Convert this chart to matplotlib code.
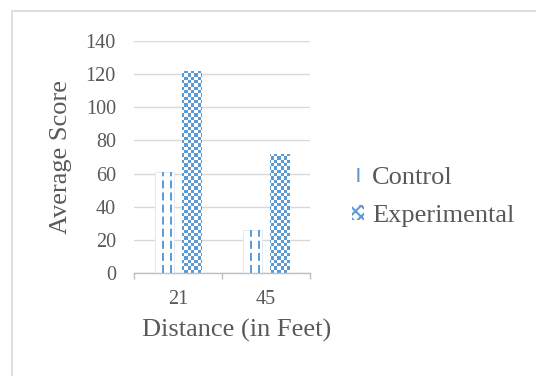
import numpy as np
import matplotlib
matplotlib.use("Agg")
import matplotlib.pyplot as plt
from matplotlib.patches import Patch, Rectangle

categories = ["21", "45"]
control = [61, 26]
experimental = [122, 72]
y_ticks = [0, 20, 40, 60, 80, 100, 120, 140]

blue = "#5b9bd5"
text_grey = "#595959"
grid_grey = "#d9d9d9"

plt.rcParams["font.family"] = ["Liberation Serif", "DejaVu Serif"]
plt.rcParams["lines.scale_dashes"] = False
plt.rcParams["hatch.linewidth"] = 1.5

fig = plt.figure(figsize=(5.36, 3.76), dpi=100)
ax = fig.add_axes([134 / 536, 1 - 273 / 376, 176 / 536, 232 / 376])

x = np.arange(len(categories))
w = 0.225
off = 0.153

ctrl_bars = ax.bar(x - off, control, w, color="white", edgecolor="#dde8f4", linewidth=0.6, zorder=2)
exp_bars = ax.bar(x + off, experimental, w, color="none", linewidth=0, zorder=2)

# dashed vertical pattern for the control bars
for b in ctrl_bars:
    x0, bw, h = b.get_x(), b.get_width(), b.get_height()
    for frac in (0.42, 0.83):
        ax.vlines(x0 + frac * bw, 0, h, colors=blue, linewidth=1.4,
                  linestyles=(0, (5.8, 2.9)), zorder=3)

# checkerboard pattern for the experimental bars
rows, cols = 70, 53
yy, xx = np.mgrid[0:rows, 0:cols]
mask = (yy + xx) % 2 == 0
img = np.ones((rows, cols, 3))
img[mask] = matplotlib.colors.to_rgb(blue)
for b in exp_bars:
    im = ax.imshow(img, extent=[0, 1, 0, 1], transform=ax.transAxes,
                   aspect="auto", interpolation="nearest", zorder=2)
    im.set_clip_path(b)

ax.set_xlim(-0.5, len(categories) - 0.5)
ax.set_ylim(0, 140)
ax.set_yticks(y_ticks)
ax.set_xticks(x)
ax.set_xticklabels(categories)
ax.set_xticks(np.arange(len(categories) + 1) - 0.5, minor=True)

ax.tick_params(axis="y", length=0, pad=13, labelsize=14.5, labelcolor=text_grey)
ax.tick_params(axis="x", which="major", length=0, pad=12, labelsize=14.5, labelcolor=text_grey)
ax.tick_params(axis="x", which="minor", length=4.3, width=1, color="#bfbfbf", direction="out")

ax.grid(axis="y", color=grid_grey, linewidth=1.0)
ax.set_axisbelow(True)
for s in ["top", "right", "left"]:
    ax.spines[s].set_visible(False)
ax.spines["bottom"].set_color("#bfbfbf")
ax.spines["bottom"].set_linewidth(1.0)

ax.set_ylabel("Average Score", fontsize=19, color=text_grey)
ax.yaxis.set_label_coords(-0.35, 0.5)
ax.set_xlabel("Distance (in Feet)", fontsize=19, color=text_grey)
ax.xaxis.set_label_coords(0.585, -0.2)

handles = [
    Patch(facecolor="white", edgecolor=blue, hatch="|", linewidth=0, label="Control"),
    Patch(facecolor="white", edgecolor=blue, hatch="xxx", linewidth=0, label="Experimental"),
]
leg = fig.legend(handles=handles, loc="center left", bbox_to_anchor=(352 / 536, 1 - 197 / 376),
                 frameon=False, fontsize=19, handlelength=0.45, handleheight=0.45,
                 handletextpad=0.3, labelspacing=0.6, borderpad=0, borderaxespad=0)
for t in leg.get_texts():
    t.set_color(text_grey)

fig.add_artist(Rectangle((12 / 536, -0.1), 1.2, 1.1 - 11 / 376, transform=fig.transFigure,
                         fill=False, edgecolor=grid_grey, linewidth=1.2))

fig.savefig("out.png", dpi=100)
